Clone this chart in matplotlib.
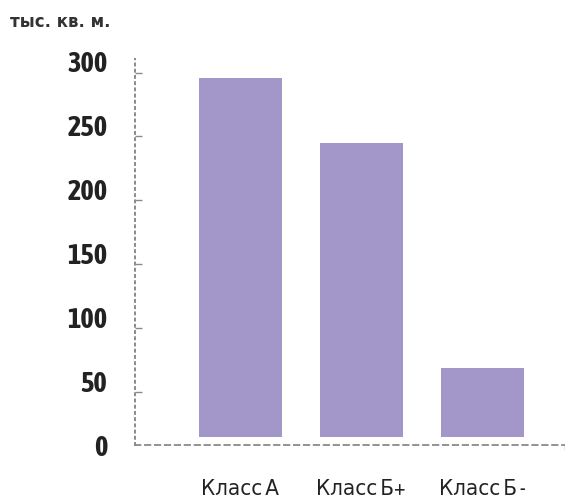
import numpy as np
import matplotlib.pyplot as plt
from matplotlib import font_manager
from matplotlib.ticker import FixedLocator

# --- data ---
categories = ['Класс А', 'Класс Б+', 'Класс Б -']
values = [287, 236, 60]          # тыс. кв. м.
ytick_values = [0, 50, 100, 150, 200, 250, 300]

BAR_COLOR = '#a396c8'
AXIS_COLOR = '#8a8a8a'
TEXT_COLOR = '#222222'


def is_narrow(f):
    n = f.name.lower()
    return ('narrow' in n or 'condensed' in n
            or str(f.stretch) in ('condensed', 'semi-condensed', '75', '87'))


# look for an upright narrow face (the original uses a condensed grotesque),
# preferring one that also comes in bold
narrow = [f for f in font_manager.fontManager.ttflist
          if is_narrow(f) and f.style == 'normal']
bold_names = sorted({f.name for f in narrow if int(f.weight) >= 600})
all_names = sorted({f.name for f in narrow})
pick = (bold_names or all_names)[:1]
NARROW = pick + ['DejaVu Sans']
STRETCH = 'condensed'

fig = plt.figure(figsize=(5.65, 5.04), dpi=100)
ax = fig.add_axes([0.239, 0.117, 0.761, 0.766])

x = np.arange(len(categories))
base = 6  # bars float a little above the baseline in the original
ax.bar(x, np.array(values) - base, bottom=base, width=0.686, color=BAR_COLOR)

ax.set_xlim(-0.868, 2.686)
ax.set_ylim(0, 302)

# spines: dotted y axis, dashed x axis
for s in ['top', 'right']:
    ax.spines[s].set_visible(False)
ax.spines['left'].set_color(AXIS_COLOR)
ax.spines['left'].set_linestyle((0, (1, 2.2)))
ax.spines['left'].set_linewidth(1.4)
ax.spines['bottom'].set_color(AXIS_COLOR)
ax.spines['bottom'].set_linestyle((0, (3, 2.5)))
ax.spines['bottom'].set_linewidth(1.3)

# labels on major ticks, small tick marks (shifted lower) on minor ticks
ax.set_yticks(ytick_values)
ax.set_yticklabels([str(v) for v in ytick_values], family=NARROW,
                   stretch=STRETCH, style='normal', fontsize=20.5,
                   fontweight='bold', color=TEXT_COLOR)
ax.tick_params(axis='y', which='major', length=0, pad=20)
ax.yaxis.set_minor_locator(FixedLocator([v - 8.6 for v in ytick_values[1:]]))
ax.tick_params(axis='y', which='minor', direction='in', length=5,
               width=1, color=AXIS_COLOR)

ax.set_xticks(x)
ax.set_xticklabels(categories, family=NARROW, stretch=STRETCH, style='normal',
                   fontsize=16, color=TEXT_COLOR)
ax.tick_params(axis='x', length=0, pad=24)

# small end mark at the right of the baseline
ax.plot([2.684, 2.684], [0, -3], color=AXIS_COLOR, lw=1, clip_on=False)

fig.text(0.018, 0.957, 'тыс. кв. м.', family='DejaVu Sans', fontsize=12,
         fontweight='bold', color='#333333', ha='left', va='center')

fig.savefig('out.png', dpi=100)
